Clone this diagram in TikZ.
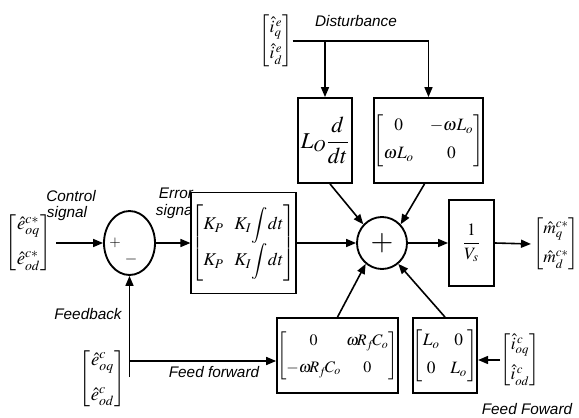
\documentclass[tikz,border=0pt]{standalone}
\usepackage{amsmath}
\usepackage{mathptmx}
\usepackage[no-math]{fontspec}
\setsansfont{Liberation Sans}
\usetikzlibrary{arrows.meta,shapes.geometric}
\begin{document}
\begin{tikzpicture}[x=0.75pt,y=-0.75pt,
  blk/.style={draw,line width=1.4pt,inner sep=0pt},
  lbl/.style={font=\sffamily\itshape\fontsize{11.5}{13}\selectfont,inner sep=0pt},
  arr/.style={-{Triangle[length=7.5pt,width=6pt]},line width=1.2pt},
  ln/.style={line width=1.2pt},
  mth/.style={font=\fontsize{13}{15}\selectfont,inner sep=0pt},
  sumnode/.style={draw,ellipse,line width=1.4pt,inner sep=0pt}
]
\useasboundingbox (0,0) rectangle (579,418);

% disturbance input
\node[mth] (dist) at (276,41) {$\begin{bmatrix}\hat{i}^{\,e}_{q}\\[4pt]\hat{i}^{\,e}_{d}\end{bmatrix}$};
\node[lbl] (ldist) at (356,21) {Disturbance};

% top blocks
\node[blk,minimum width=40.5pt,minimum height=63.75pt,font=\fontsize{17}{19}\selectfont] (ld) at (325,140.5) {$L_O\dfrac{d}{dt}$};
\node[blk,minimum width=77.25pt,minimum height=63.75pt,font=\fontsize{13}{15}\selectfont] (mat1) at (428.5,140.5) {$\setlength\arraycolsep{6pt}\begin{bmatrix}0 & -\omega L_o\\[6pt] \omega L_o & 0\end{bmatrix}$};

% main row
\node[mth,font=\fontsize{14}{16}\selectfont] (ein) at (28.5,243) {$\begin{bmatrix}\hat{e}^{c*}_{oq}\\[10pt]\hat{e}^{c*}_{od}\end{bmatrix}$};
\node[lbl] (lctl1) at (71,196) {Control};
\node[lbl] (lctl2) at (67,214) {signal};
\node[sumnode,minimum width=38.25pt,minimum height=48pt] (sum1) at (129.5,243) {};
\node[inner sep=0pt,font=\fontsize{11}{12}\selectfont] (plus1) at (115,243) {$+$};
\node[inner sep=0pt,font=\fontsize{12}{12}\selectfont] (minus1) at (131,259) {$-$};
\node[lbl] (lerr1) at (176,193) {Error};
\node[lbl] (lerr2) at (176,212) {signal};
\node[blk,fill=white,minimum width=72.75pt,minimum height=75.75pt,font=\fontsize{13.5}{16}\selectfont] (pi) at (243.5,243) {$\setlength\arraycolsep{4pt}\begin{bmatrix}K_P & K_I\!\displaystyle\int\! dt\\[2pt] K_P & K_I\!\displaystyle\int\! dt\end{bmatrix}$};
\node[sumnode,minimum width=37.5pt,minimum height=39pt,font=\fontsize{22}{22}\selectfont] (sum2) at (382,243) {$+$};
\node[blk,minimum width=33.75pt,minimum height=64.5pt,font=\fontsize{13}{15}\selectfont] (vbox) at (471.5,243) {$\dfrac{1}{V_s}$};
\node[mth] (mout) at (556,244) {$\begin{bmatrix}\hat{m}^{c*}_{q}\\[7pt]\hat{m}^{c*}_{d}\end{bmatrix}$};

% bottom blocks
\node[blk,minimum width=86.25pt,minimum height=56.25pt,font=\fontsize{12}{14}\selectfont] (mat2) at (337.5,355.5) {$\setlength\arraycolsep{2pt}\begin{bmatrix}0 & \omega\! R_f\! C_o\\[6pt] -\omega\! R_f\! C_o & 0\end{bmatrix}$};
\node[blk,minimum width=45pt,minimum height=56.25pt,font=\fontsize{13}{15}\selectfont] (lobox) at (445,355.5) {$\setlength\arraycolsep{4pt}\begin{bmatrix}L_o & 0\\[6pt] 0 & L_o\end{bmatrix}$};
\node[mth] (iin) at (520,360) {$\begin{bmatrix}\hat{i}^{\,c}_{oq}\\[7pt]\hat{i}^{\,c}_{od}\end{bmatrix}$};
\node[lbl] (lff2) at (527,409) {Feed Foward};

\node[mth,font=\fontsize{14}{16}\selectfont] (efb) at (102.5,378.5) {$\begin{bmatrix}\hat{e}^{c}_{oq}\\[10pt]\hat{e}^{c}_{od}\end{bmatrix}$};
\node[lbl] (lfb) at (88,314) {Feedback};
\node[lbl] (lff) at (214,372) {Feed forward};

\coordinate (fb) at (129.5,361);
\coordinate (fbb) at (129.5,377);

% connectors
\draw[ln] (dist.east) -- (dist.east -| mat1.north);
\draw[arr] (dist.east -| ld.north) -- (ld.north);
\draw[arr] (dist.east -| mat1.north) -- (mat1.north);
\draw[arr] ([xshift=3.75pt]ld.south) -- (sum2.135);
\draw[arr] ([xshift=-3pt]mat1.south) -- (sum2.45);
\draw[arr] (mat2.north) -- (sum2.232);
\draw[arr] (lobox.north) -- (sum2.308);
\draw[arr] (iin.west) -- (iin.west -| lobox.east);

\draw[arr] ([xshift=3.75pt]ein.east) -- (sum1.west);
\draw[arr] (sum1.east) -- (pi.west);
\draw[arr] (pi.east) -- (sum2.west);
\draw[arr] (sum2.east) -- (vbox.west);
\draw[arr] (vbox.east) -- ([xshift=-1.5pt]mout.west);

\draw[arr] (fbb) -- (sum1.south);
\draw[arr] (fb) -- (fb -| mat2.west);
\end{tikzpicture}
\end{document}
